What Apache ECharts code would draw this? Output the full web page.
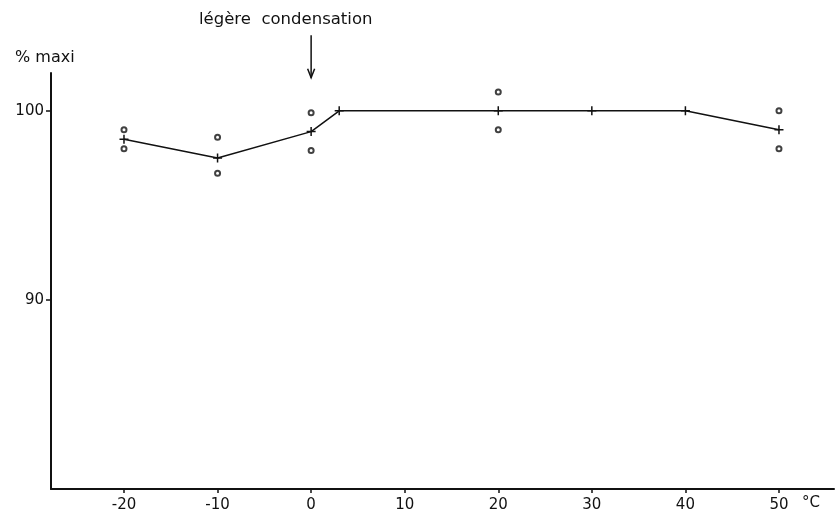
<!DOCTYPE html>
<html>
<head>
<meta charset="utf-8">
<script src="https://cdn.jsdelivr.net/npm/echarts@6/dist/echarts.min.js"></script>
<style>
  html, body { margin: 0; padding: 0; background: #fff; }
  #chart { width: 835px; height: 514px; }
</style>
</head>
<body>
<div id="chart"></div>
<script>
// mean values (+) and individual measurements (o)
var temps = [-20, -10, 0, 3, 20, 30, 40, 50];
var meanPct = [98.5, 97.5, 98.9, 100, 100, 100, 100, 99];
var pointTemps = [-20, -20, -10, -10, 0, 0, 20, 20, 50, 50];
var pointPct = [99, 98, 98.6, 96.7, 99.9, 97.9, 101, 99, 100, 98];
var xTicks = [-20, -10, 0, 10, 20, 30, 40, 50];
var yLabels = [90, 100];
var noteText = 'légère  condensation';
var noteTemp = 0;
var noteFrom = 104.0, noteTo = 101.75;

var ink = '#111';
var font = 'DejaVu Sans';

var chart = echarts.init(document.getElementById('chart'));

var option = {
  animation: false,
  grid: { left: 51, top: 73, width: 783, height: 416, containLabel: false },
  xAxis: {
    type: 'value',
    min: -27.8,
    max: 55.88,
    splitLine: { show: false },
    axisLine: { onZero: false, lineStyle: { color: ink, width: 2 } },
    axisTick: { customValues: xTicks, length: 4, lineStyle: { color: ink, width: 1.5 } },
    axisLabel: {
      customValues: xTicks,
      color: ink, fontFamily: font, fontSize: 15, margin: 9
    }
  },
  yAxis: {
    type: 'value',
    min: 80,
    max: 102,
    interval: 10,
    splitLine: { show: false },
    axisLine: { show: true, onZero: false, lineStyle: { color: ink, width: 2 } },
    axisTick: { show: true, customValues: yLabels, length: 5, lineStyle: { color: ink, width: 1.5 } },
    axisLabel: {
      customValues: yLabels,
      color: ink, fontFamily: font, fontSize: 15, margin: 7
    }
  },
  series: [
    {
      name: 'moyenne',
      type: 'line',
      z: 3,
      data: temps.map(function (t, i) { return [t, meanPct[i]]; }),
      symbol: 'path://M0,5L10,5M5,0L5,10',
      symbolSize: 9,
      lineStyle: { color: ink, width: 1.5 },
      itemStyle: { color: ink, borderColor: ink, borderWidth: 1.5 }
    },
    {
      name: 'mesures',
      type: 'scatter',
      z: 4,
      data: pointTemps.map(function (t, i) { return [t, pointPct[i]]; }),
      symbol: 'emptyCircle',
      symbolSize: 5,
      itemStyle: { color: ink, borderColor: ink, borderWidth: 1.5 }
    }
  ]
};

chart.setOption(option);

// annotation arrow, positioned from data values
var a = chart.convertToPixel({ gridIndex: 0 }, [noteTemp, noteFrom]);
var b = chart.convertToPixel({ gridIndex: 0 }, [noteTemp, noteTo]);
chart.setOption({
  graphic: [
    {
      type: 'text', left: 199, top: 11,
      style: { text: noteText, fill: ink, font: '16.5px "' + font + '"' }
    },
    {
      type: 'text', left: 15, top: 50,
      style: { text: '% maxi', fill: ink, font: '16px "' + font + '"' }
    },
    {
      type: 'text', left: 802, top: 496,
      style: { text: '°C', fill: ink, font: '15px "' + font + '"' }
    },
    {
      type: 'line',
      shape: { x1: a[0], y1: a[1], x2: b[0], y2: b[1] },
      style: { stroke: ink, lineWidth: 1.5 }
    },
    {
      type: 'polyline',
      shape: { points: [[b[0] - 3.5, b[1] - 9], [b[0], b[1]], [b[0] + 3.5, b[1] - 9]] },
      style: { stroke: ink, lineWidth: 1.5, fill: null }
    }
  ]
});
</script>
</body>
</html>
